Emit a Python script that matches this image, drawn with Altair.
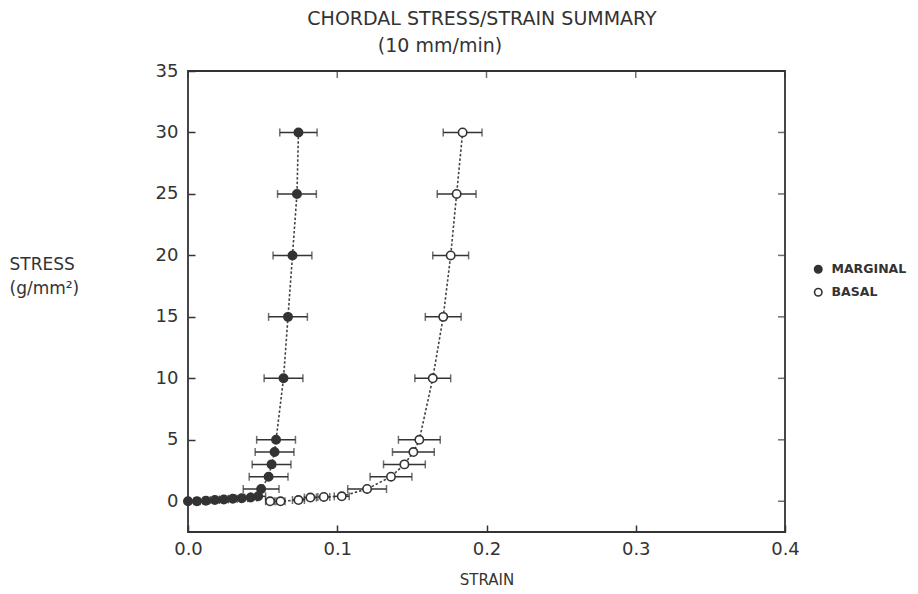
import altair as alt
import pandas as pd

# ---- data ----
series_names = ["MARGINAL", "BASAL"]

marg_strain = [0.000, 0.006, 0.012, 0.018, 0.024, 0.030, 0.036, 0.042, 0.047, 0.049,
               0.054, 0.056, 0.058, 0.059, 0.064, 0.067, 0.070, 0.073, 0.074]
marg_stress = [0.0, 0.0, 0.05, 0.1, 0.15, 0.2, 0.25, 0.3, 0.4, 1.0,
               2.0, 3.0, 4.0, 5.0, 10.0, 15.0, 20.0, 25.0, 30.0]
marg_err = [0.001, 0.002, 0.002, 0.003, 0.003, 0.003, 0.004, 0.004, 0.005, 0.012,
            0.013, 0.013, 0.013, 0.013, 0.013, 0.013, 0.013, 0.013, 0.0125]

basal_strain = [0.055, 0.062, 0.074, 0.082, 0.091, 0.103, 0.120, 0.136, 0.145,
                0.151, 0.155, 0.164, 0.171, 0.176, 0.180, 0.184]
basal_stress = [0.0, 0.0, 0.1, 0.3, 0.35, 0.4, 1.0, 2.0, 3.0,
                4.0, 5.0, 10.0, 15.0, 20.0, 25.0, 30.0]
basal_err = [0.003, 0.003, 0.004, 0.004, 0.004, 0.005, 0.013, 0.014, 0.014,
             0.014, 0.014, 0.012, 0.012, 0.012, 0.013, 0.013]

x_ticks = [0.0, 0.1, 0.2, 0.3, 0.4]
y_ticks = [0, 5, 10, 15, 20, 25, 30, 35]
x_domain = [0.0, 0.4]
y_domain = [-2.5, 35]

title_text = ["CHORDAL STRESS/STRAIN SUMMARY"]
subtitle_text = ["(10 mm/min)"]

rows = []
for name, xs, ys, es in [("MARGINAL", marg_strain, marg_stress, marg_err),
                         ("BASAL", basal_strain, basal_stress, basal_err)]:
    for i, (x, y, e) in enumerate(zip(xs, ys, es)):
        rows.append(dict(series=name, strain=x, stress=y, lo=x - e, hi=x + e, idx=i))
df = pd.DataFrame(rows)

right_ticks = pd.DataFrame({"strain": [x_domain[1]] * len(y_ticks), "stress": y_ticks})
top_ticks = pd.DataFrame({"strain": x_ticks, "stress": [y_domain[1]] * len(x_ticks)})

FONT = "DejaVu Sans"
INK = "#333333"

xscale = alt.Scale(domain=x_domain, nice=False, zero=False)
yscale = alt.Scale(domain=y_domain, nice=False, zero=False)

x_axis = alt.Axis(values=x_ticks, format=".1f", domain=False, grid=False,
                  offset=-7, tickSize=7, tickWidth=1.5, tickColor=INK,
                  labelFlush=False, labelOverlap=False, labelPadding=8,
                  labelFont=FONT, labelFontSize=18, labelColor=INK,
                  titleFont=FONT, titleFontSize=15, titleFontWeight="normal",
                  titleColor=INK, titlePadding=14)
y_axis = alt.Axis(values=y_ticks, domain=False, grid=False,
                  offset=-7, tickSize=7, tickWidth=1.5, tickColor=INK,
                  labelOverlap=False, labelPadding=10,
                  labelFont=FONT, labelFontSize=18, labelColor=INK,
                  titleFont=FONT, titleFontSize=17, titleFontWeight="normal",
                  titleColor=INK, titleAngle=0, titleAlign="left",
                  titleBaseline="alphabetic", titleX=-186, titleY=198,
                  titleLineHeight=24)

X_TITLE = "STRAIN"
Y_TITLE = ["STRESS", "(g/mm²)"]


def X(field):
    return alt.X(f"{field}:Q", scale=xscale, axis=x_axis, title=X_TITLE)


def Y(field):
    return alt.Y(f"{field}:Q", scale=yscale, axis=y_axis, title=Y_TITLE)


base = alt.Chart(df)

lines = base.mark_line(color="#444444", strokeWidth=1.6, strokeDash=[2.5, 2]).encode(
    x=X("strain"), y=Y("stress"), detail="series:N", order="idx:Q")

bars = base.mark_rule(color=INK, strokeWidth=1.5).encode(
    x=X("lo"), x2="hi:Q", y=Y("stress"))

caps_lo = base.mark_tick(orient="vertical", size=8, thickness=1.5, color=INK).encode(
    x=X("lo"), y=Y("stress"))
caps_hi = base.mark_tick(orient="vertical", size=8, thickness=1.5, color=INK).encode(
    x=X("hi"), y=Y("stress"))

points = base.mark_point(filled=True, size=70, stroke=INK, strokeWidth=1.6, opacity=1).encode(
    x=X("strain"), y=Y("stress"),
    fill=alt.Fill("series:N",
                  scale=alt.Scale(domain=series_names, range=[INK, "#ffffff"]),
                  legend=alt.Legend(title=None, orient="none", legendX=624, legendY=192,
                                    symbolType="circle", symbolSize=55,
                                    symbolStrokeColor=INK, symbolStrokeWidth=1.6,
                                    labelFont=FONT, labelFontSize=12.5,
                                    labelFontWeight="bold", labelColor=INK,
                                    rowPadding=8, labelOffset=7)))

rt = alt.Chart(right_ticks).mark_tick(orient="horizontal", size=7, thickness=1.5,
                                      color=INK, xOffset=-3.5).encode(
    x=X("strain"), y=Y("stress"))
tt = alt.Chart(top_ticks).mark_tick(orient="vertical", size=7, thickness=1.5,
                                    color=INK, yOffset=3.5).encode(
    x=X("strain"), y=Y("stress"))

ttl = alt.Chart(pd.DataFrame({"t": title_text})).mark_text(
    font=FONT, fontSize=19, color=INK, align="center", baseline="middle").encode(
    text="t:N", x=alt.value(294), y=alt.value(-52))

sub = alt.Chart(pd.DataFrame({"t": subtitle_text})).mark_text(
    font=FONT, fontSize=19, color=INK, align="center", baseline="middle").encode(
    text="t:N", x=alt.value(252), y=alt.value(-25))

chart = alt.layer(lines, bars, caps_lo, caps_hi, points, rt, tt, ttl, sub).properties(
    width=597, height=461,
    padding={"left": 180, "top": 63, "right": 125, "bottom": 62},
    autosize=alt.AutoSizeParams(type="none"),
    background="white",
).configure_view(stroke=INK, strokeWidth=1.8)

chart.save("out.html", embed_options={"renderer": "svg", "actions": False})
